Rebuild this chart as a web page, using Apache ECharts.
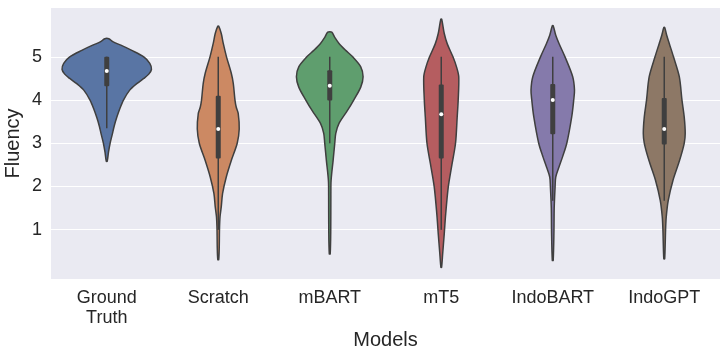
<!DOCTYPE html>
<html>
<head>
<meta charset="utf-8">
<script src="https://cdn.jsdelivr.net/npm/echarts@6/dist/echarts.min.js"></script>
<style>
  html, body { margin: 0; padding: 0; background: #fff; }
  #chart { width: 727px; height: 357px; }
</style>
</head>
<body>
<div id="chart"></div>
<script>
// categories
const models = ['Ground\nTruth', 'Scratch', 'mBART', 'mT5', 'IndoBART', 'IndoGPT'];
const colors = ['#5975A4', '#CC8963', '#5F9E6E', '#B55D60', '#857AAB', '#8D7866'];

// violin outlines: [fluency, half width as share of the category band]
const groundTruthShape = [[5.42, .018], [5.35, .054], [5.27, .126], [5.15, .224], [5.0, .332], [4.85, .386], [4.71, .401], [4.6, .377], [4.5, .332], [4.38, .269], [4.23, .206], [4.0, .150], [3.8, .117], [3.6, .090], [3.4, .067], [3.2, .049], [3.0, .030], [2.8, .016], [2.58, .004]];
const scratchShape = [[5.71, .004], [5.54, .027], [5.31, .045], [5.0, .074], [4.62, .117], [4.38, .135], [4.0, .150], [3.84, .161], [3.69, .179], [3.33, .188], [3.0, .170], [2.6, .117], [2.22, .072], [1.84, .039], [1.53, .027], [1.3, .016], [1.0, .011], [0.6, .009], [0.31, .004]];
const mbartShape = [[5.57, .018], [5.45, .045], [5.31, .083], [5.15, .143], [5.0, .206], [4.77, .278], [4.54, .299], [4.3, .278], [4.0, .215], [3.76, .159], [3.46, .083], [3.23, .054], [3.0, .045], [2.6, .030], [2.14, .012], [1.8, .010], [1.0, .009], [0.44, .004]];
const mt5Shape = [[5.87, .004], [5.54, .027], [5.3, .054], [5.0, .105], [4.75, .139], [4.54, .157], [4.0, .152], [3.61, .143], [3.0, .128], [2.45, .092], [1.99, .063], [1.37, .040], [0.91, .027], [0.45, .013], [0.13, .003]];
const indobartShape = [[5.72, .004], [5.5, .027], [5.31, .056], [5.0, .110], [4.54, .179], [4.23, .195], [4.0, .188], [3.61, .170], [3.0, .126], [2.68, .087], [2.45, .056], [2.22, .027], [1.99, .021], [1.5, .013], [1.0, .011], [0.29, .004]];
const indogptShape = [[5.68, .004], [5.5, .022], [5.31, .045], [5.0, .083], [4.54, .135], [4.0, .159], [3.61, .179], [3.23, .188], [3.0, .179], [2.6, .137], [2.14, .078], [1.68, .036], [1.3, .018], [1.0, .012], [0.33, .004]];
const shapes = [groundTruthShape, scratchShape, mbartShape, mt5Shape, indobartShape, indogptShape];

// inner box stats
const whiskerHigh = [5.0, 5.0, 5.0, 5.0, 5.0, 5.0];
const q3 = [5.0, 4.1, 4.69, 4.36, 4.37, 4.05];
const medians = [4.67, 3.33, 4.33, 3.67, 4.0, 3.33];
const q1 = [4.32, 2.65, 3.99, 2.65, 3.21, 2.97];
const whiskerLow = [3.35, 1.0, 3.0, 1.0, 1.67, 1.67];

const yTicks = [1, 2, 3, 4, 5];

const edge = '#3f3f3f';
const font = 'Liberation Sans, Arial, sans-serif';

const chart = echarts.init(document.getElementById('chart'));
chart.setOption({
  backgroundColor: '#fff',
  animation: false,
  grid: {
    left: 51, right: 7, top: 8, bottom: 78,
    outerBoundsMode: 'none',
    backgroundColor: '#EAEAF2', show: true, borderWidth: 0
  },
  xAxis: {
    type: 'category',
    data: models,
    boundaryGap: true,
    axisLine: {show: false},
    axisTick: {show: false},
    axisLabel: {color: '#262626', fontSize: 18, fontFamily: font, margin: 9, lineHeight: 20},
    name: 'Models',
    nameLocation: 'middle',
    nameGap: 51,
    nameMoveOverlap: false,
    nameTextStyle: {color: '#262626', fontSize: 20, fontFamily: font}
  },
  yAxis: {
    type: 'value',
    min: -0.14,
    max: 6.13,
    axisLine: {show: false},
    axisTick: {show: false, customValues: yTicks},
    axisLabel: {color: '#262626', fontSize: 18, fontFamily: font, margin: 9, customValues: yTicks},
    splitLine: {show: true, lineStyle: {color: '#fff', width: 1.2}},
    name: 'Fluency',
    nameLocation: 'middle',
    nameGap: 28,
    nameMoveOverlap: false,
    nameTextStyle: {color: '#262626', fontSize: 20, fontFamily: font}
  },
  series: [{
    type: 'custom',
    data: models.map((m, i) => [i]),
    encode: {x: 0},
    renderItem(params, api) {
      const i = api.value(0);
      const band = api.size([1, 0])[0];
      const shape = shapes[i];
      const right = shape.map(([y, w]) => {
        const p = api.coord([i, y]);
        return [p[0] + w * band, p[1]];
      });
      const left = shape.slice().reverse().map(([y, w]) => {
        const p = api.coord([i, y]);
        return [p[0] - w * band, p[1]];
      });
      const cx = api.coord([i, 0])[0];
      const yHi = api.coord([i, whiskerHigh[i]])[1];
      const yLo = api.coord([i, whiskerLow[i]])[1];
      const yQ3 = api.coord([i, q3[i]])[1];
      const yQ1 = api.coord([i, q1[i]])[1];
      const yMed = api.coord([i, medians[i]])[1];
      return {
        type: 'group',
        children: [
          {
            type: 'polygon',
            shape: {points: right.concat(left), smooth: 0.3},
            style: {fill: colors[i], stroke: edge, lineWidth: 1.5}
          },
          {
            type: 'line',
            shape: {x1: cx, y1: yHi, x2: cx, y2: yLo},
            style: {stroke: edge, lineWidth: 1.5}
          },
          {
            type: 'rect',
            shape: {x: cx - 2.5, y: yQ3, width: 5, height: yQ1 - yQ3, r: 1},
            style: {fill: edge}
          },
          {
            type: 'circle',
            shape: {cx: cx, cy: yMed, r: 2},
            style: {fill: '#fff'}
          }
        ]
      };
    }
  }]
});
</script>
</body>
</html>
